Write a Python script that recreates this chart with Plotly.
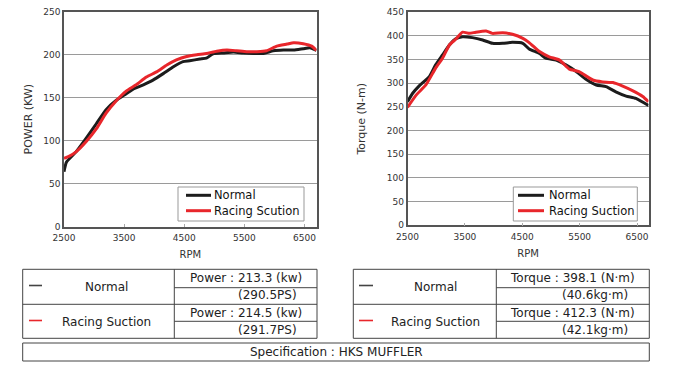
import plotly.graph_objects as go

# The page body has an 8px margin, so the figure is drawn 8px in from the window edges.
OFF = 8
W, H = 680 - 2 * OFF, 370 - 2 * OFF

# ---------------- data ----------------
rpm_ticks = [2500, 3500, 4500, 5500, 6500]

rpm_power_normal = [2500, 2540, 2700, 2870, 3040, 3200, 3370, 3500, 3650, 3820, 3980, 4150, 4320, 4480,
                    4590, 4760, 4870, 4980, 5150, 5320, 5480, 5650, 5820, 5980, 6150, 6320, 6480, 6590, 6700]
power_normal = [64, 75, 87, 103, 120, 136, 147, 153, 160, 165, 170.5, 178, 186, 192,
                193, 195, 196, 201, 202, 203, 202, 201.5, 201.5, 204.5, 205.5, 205.5, 207, 208, 205]

rpm_power_racing = [2500, 2590, 2700, 2870, 3040, 3200, 3370, 3540, 3700, 3870, 4040, 4210, 4370, 4540,
                    4710, 4870, 5040, 5210, 5370, 5540, 5710, 5870, 6040, 6210, 6320, 6480, 6620, 6700]
power_racing = [79.5, 82, 87, 99, 114, 132, 146.5, 158, 165, 174, 180, 188, 194, 198,
                200, 201.5, 204, 205.4, 204.6, 203.5, 203.5, 204.6, 210, 212.4, 214, 212.8, 210, 205]

rpm_torque_normal = [2500, 2590, 2700, 2880, 2990, 3110, 3230, 3340, 3460, 3630, 3810, 3980, 4160, 4330,
                     4510, 4620, 4800, 4910, 5090, 5260, 5440, 5610, 5790, 5960, 6130, 6310, 6480, 6700]
torque_normal = [261, 279, 294, 314, 339, 360, 381, 394, 398.5, 396.5, 391.5, 384.5, 384.5, 386.5,
                 384.5, 372.5, 363, 353, 349, 339, 325, 308.5, 296.5, 293, 282, 273, 268, 253]

rpm_torque_racing = [2500, 2650, 2820, 2990, 3110, 3230, 3340, 3460, 3580, 3690, 3870, 3980, 4160, 4330,
                     4510, 4620, 4800, 4970, 5150, 5320, 5490, 5730, 5900, 6080, 6250, 6420, 6600, 6700]
torque_racing = [249, 275, 296.5, 332, 353, 381, 393, 408, 405.5, 408, 410.5, 405.5, 407, 403.5,
                 395, 386, 367, 356, 349, 330, 324.5, 307, 303, 301.5, 294, 284.5, 272, 261]

series_names = ["Normal", "Racing Suction"]
left_legend_names = ["Normal", "Racing Scution"]

power_table = [("Power : 213.3 (kw)", "(290.5PS)"), ("Power : 214.5 (kw)", "(291.7PS)")]
torque_table = [("Torque : 398.1 (N·m)", "(40.6kg·m)"), ("Torque : 412.3 (N·m)", "(42.1kg·m)")]
spec_text = "Specification : HKS MUFFLER"

# ---------------- style ----------------
BLACK = "#1c1c1c"
RED = "#e8262b"
FONT = "DejaVu Sans"
TXT = "#222222"


def px(x):
    return (x - OFF) / W


def py(y):
    return 1 - (y - OFF) / H


fig = go.Figure()

line_style = dict(width=3, shape="spline", smoothing=0.5)
fig.add_trace(go.Scatter(x=rpm_power_normal, y=power_normal, mode="lines", name=left_legend_names[0],
                         line=dict(color=BLACK, **line_style), xaxis="x", yaxis="y", showlegend=False))
fig.add_trace(go.Scatter(x=rpm_power_racing, y=power_racing, mode="lines", name=left_legend_names[1],
                         line=dict(color=RED, **line_style), xaxis="x", yaxis="y", showlegend=False))
fig.add_trace(go.Scatter(x=rpm_torque_normal, y=torque_normal, mode="lines", name=series_names[0],
                         line=dict(color=BLACK, **line_style), xaxis="x2", yaxis="y2", showlegend=False))
fig.add_trace(go.Scatter(x=rpm_torque_racing, y=torque_racing, mode="lines", name=series_names[1],
                         line=dict(color=RED, **line_style), xaxis="x2", yaxis="y2", showlegend=False))

xcommon = dict(range=[2500, 6700], tickvals=rpm_ticks, showgrid=False, zeroline=False,
               showline=True, mirror=True, linecolor="#555555", linewidth=1.5,
               ticks="inside", ticklen=3, tickcolor="#aaaaaa", ticklabelstandoff=2,
               ticklabeloverflow="allow",
               tickfont=dict(family=FONT, size=9, color="#333333"),
               title=dict(text="RPM", font=dict(family=FONT, size=10, color="#333333"), standoff=9),
               automargin=False, fixedrange=True)
ycommon = dict(showgrid=True, gridcolor="#9a9a9a", gridwidth=1, zeroline=False,
               showline=True, mirror=True, linecolor="#555555", linewidth=1.5,
               ticks="", ticklabeloverflow="allow",
               tickfont=dict(family=FONT, size=9, color="#333333"),
               automargin=False, fixedrange=True)

fig.update_layout(
    width=W, height=H, autosize=False,
    margin=dict(l=0, r=0, t=0, b=0),
    template="none",
    paper_bgcolor="white", plot_bgcolor="white",
    showlegend=False,
    xaxis=dict(domain=[px(64), px(316.5)], anchor="y", **xcommon),
    yaxis=dict(domain=[py(226.7), py(11.7)], anchor="x", range=[0, 250], dtick=50,
               title=dict(text="POWER (KW)", font=dict(family=FONT, size=11, color="#333333"), standoff=8),
               **ycommon),
    xaxis2=dict(domain=[px(407.5), px(648.5)], anchor="y2", **xcommon),
    yaxis2=dict(domain=[py(225.3), py(12.3)], anchor="x2", range=[0, 450], dtick=50,
                title=dict(text="Torque (N-m)", font=dict(family=FONT, size=11, color="#333333"), standoff=19),
                **ycommon),
)

shapes = []
annos = []
LC = "#444444"


def line(x0, y0, x1, y1, color=LC, width=1):
    shapes.append(dict(type="line", xref="paper", yref="paper", x0=px(x0), y0=py(y0), x1=px(x1), y1=py(y1),
                       line=dict(color=color, width=width)))


def rect(x0, y0, x1, y1, color=LC, fill="rgba(0,0,0,0)"):
    shapes.append(dict(type="rect", xref="paper", yref="paper", x0=px(x0), y0=py(y0), x1=px(x1), y1=py(y1),
                       line=dict(color=color, width=1), fillcolor=fill))


def text(t, x, y, xanchor="center", size=12, color=TXT):
    annos.append(dict(text=t, x=px(x), y=py(y), xref="paper", yref="paper", xanchor=xanchor, yanchor="middle",
                      showarrow=False, font=dict(family=FONT, size=size, color=color)))


# ---------------- legends (boxes inside each chart) ----------------
def legend_box(x0, x1, names, line_x0, line_x1, text_x):
    rect(x0, 187, x1, 221, color="#999999", fill="white")
    ys = [195.3, 210.7]
    for name, color, yy in zip(names, [BLACK, RED], ys):
        line(line_x0, yy, line_x1, yy, color=color, width=3)
        text(name, text_x, yy, xanchor="left", size=11.5, color="#111111")


legend_box(178, 304, left_legend_names, 186, 211, 212)
legend_box(513.3, 637.3, series_names, 518, 544, 547)


# ---------------- tables ----------------
def table(x0, xdiv, x1, rows, label_x, dash_x0, dash_x1, val_right):
    top, mid, bot = 269.3, 304.3, 338.3
    rect(x0, top, x1, bot)
    line(xdiv, top, xdiv, bot)
    line(x0, mid, x1, mid)
    line(xdiv, 287.7, x1, 287.7)
    line(xdiv, 321.3, x1, 321.3)
    centers = [286.5, 321.5]
    subs = [(277.7, 294.5), (312.7, 329.8)]
    colors = ["#444444", RED]
    for i, (name, (v1, v2)) in enumerate(zip(series_names, rows)):
        line(dash_x0, centers[i] - 1, dash_x1, centers[i] - 1, color=colors[i], width=1.6)
        text(name, label_x, centers[i])
        text(v1, (xdiv + x1) / 2, subs[i][0])
        text(v2, val_right, subs[i][1], xanchor="right")


table(22.7, 174.3, 317, power_table, 106, 29, 42, 299)
table(353.3, 496.3, 649.3, torque_table, 435, 359, 373, 630)
rect(22.7, 343, 649.3, 361)
text(spec_text, 336, 352)

fig.update_layout(shapes=shapes, annotations=annos)

fig.write_html("out.html")
